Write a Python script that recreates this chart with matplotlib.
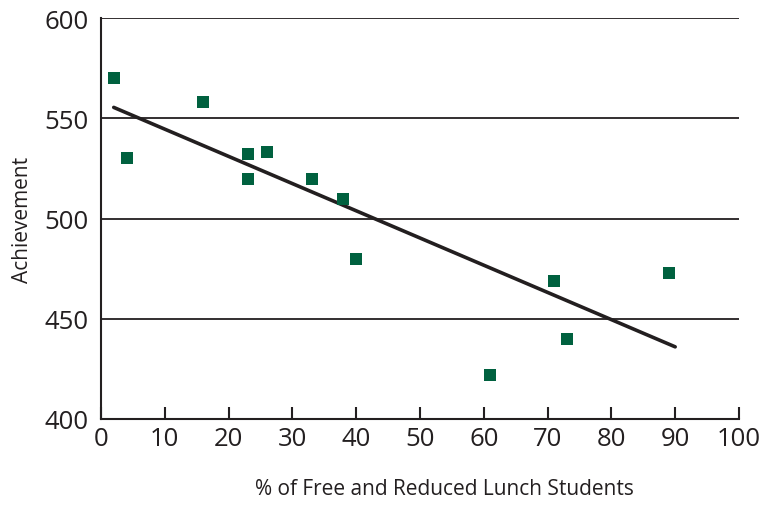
import numpy as np
import matplotlib.pyplot as plt

# Data
pct_free_lunch = [2, 4, 16, 23, 23, 26, 33, 38, 40, 61, 71, 73, 89]
achievement = [570, 530, 558, 532, 520, 533, 520, 510, 480, 422, 469, 440, 473]

# Trend line end points
trend_x = [2, 90]
trend_y = [555.5, 436]

x_ticks = list(range(0, 101, 10))
y_ticks = [400, 450, 500, 550, 600]

plt.rcParams['font.family'] = ['Open Sans', 'DejaVu Sans']

fig = plt.figure(figsize=(7.65, 5.06), dpi=100)
ax = fig.add_axes([0.132, 0.170, 0.834, 0.792])

ink = '#231f20'

# Horizontal grid lines
for yv in y_ticks[1:]:
    ax.axhline(yv, color=ink, lw=1.3, zorder=1)

ax.plot(trend_x, trend_y, color=ink, lw=2.6, solid_capstyle='round', zorder=3)
ax.scatter(pct_free_lunch, achievement, marker='s', s=85, color='#00613f',
           linewidths=0, zorder=4)

ax.set_xlim(0, 100)
ax.set_ylim(400, 600)
ax.set_xticks(x_ticks)
ax.set_yticks(y_ticks)

ax.spines['top'].set_visible(False)
ax.spines['right'].set_visible(False)
for side in ['left', 'bottom']:
    ax.spines[side].set_color(ink)
    ax.spines[side].set_linewidth(1.5)

ax.tick_params(axis='x', direction='in', length=9, width=1.5, color=ink,
               labelsize=18.5, labelcolor=ink, pad=5)
ax.tick_params(axis='y', length=0, labelsize=18.5, labelcolor=ink, pad=9)

ax.set_xlabel('% of Free and Reduced Lunch Students', fontsize=15, color=ink)
ax.xaxis.set_label_coords(0.538, -0.148)
ax.set_ylabel('Achievement', fontsize=15, color=ink, labelpad=8)

fig.savefig('out.png', dpi=100)
